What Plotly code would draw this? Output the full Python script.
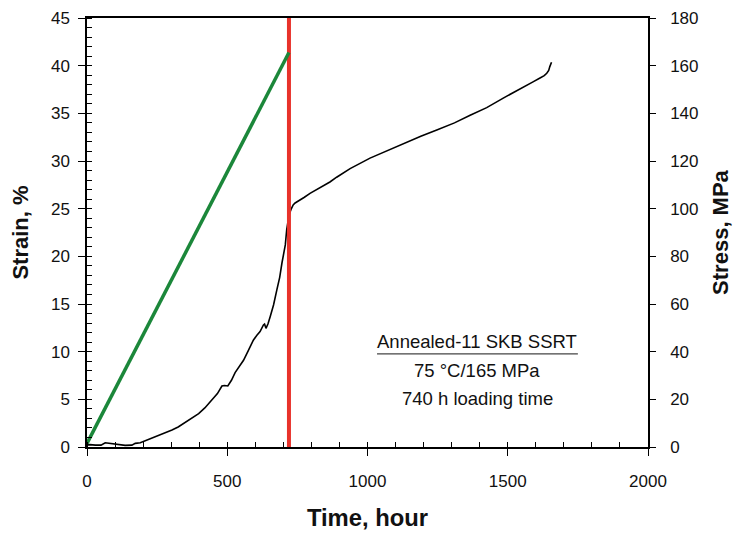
"""Strain and stress vs time for the Annealed-11 SKB SSRT test."""

import plotly.graph_objects as go

# black creep curve, strain (%) vs time (h)
TIME_H = [0, 10, 30, 50, 65, 75, 89, 110, 136, 160, 172, 190, 208, 230, 255, 280,
          303, 325, 350, 375, 398, 420, 445, 465, 481, 490, 502, 515, 528, 545,
          558, 575, 593, 605, 617, 629, 633, 638, 645, 653, 665, 677, 687, 695,
          702, 707, 712, 716, 720, 727, 735, 742, 750, 760, 775, 795, 812, 831,
          850, 866, 890, 938, 1009, 1070, 1128, 1190, 1247, 1310, 1366, 1425,
          1484, 1520, 1555, 1590, 1615, 1630, 1639, 1646, 1650, 1654, 1656]
STRAIN = [0.2, 0.25, 0.2, 0.2, 0.45, 0.42, 0.31, 0.25, 0.17, 0.2, 0.38, 0.45, 0.66,
          0.9, 1.15, 1.45, 1.78, 2.1, 2.55, 3.0, 3.5, 4.1, 4.9, 5.6, 6.4, 6.45,
          6.4, 7.0, 7.8, 8.6, 9.1, 10.1, 11.2, 11.7, 12.1, 12.8, 12.9, 12.45,
          12.9, 13.67, 14.9, 16.5, 17.8, 19.3, 20.4, 21.2, 22.8, 23.7, 24.3, 24.9,
          25.4, 25.6, 25.75, 25.85, 26.2, 26.6, 26.9, 27.2, 27.5, 27.8, 28.3,
          29.2, 30.3, 31.1, 31.85, 32.6, 33.25, 34.0, 34.8, 35.6, 36.6, 37.2,
          37.8, 38.3, 38.7, 38.95, 39.2, 39.5, 39.9, 40.2, 40.35]

# green loading ramp, stress (MPa) vs time (h)
LOAD_TIME = [0, 720]
LOAD_STRESS = [1.5, 165.5]

# red marker at end of loading
END_LOAD_TIME = [720, 720]
END_LOAD_STRAIN = [0, 45]

X_TICKS = [0, 500, 1000, 1500, 2000]
STRAIN_TICKS = [0, 5, 10, 15, 20, 25, 30, 35, 40, 45]
STRESS_TICKS = [0, 20, 40, 60, 80, 100, 120, 140, 160, 180]

FONT = "Liberation Sans, Arial, sans-serif"
INK = '#111111'

fig = go.Figure()
fig.add_trace(go.Scatter(
    x=TIME_H, y=STRAIN, mode='lines',
    line=dict(color='black', width=1.6), showlegend=False,
))
fig.add_trace(go.Scatter(
    x=LOAD_TIME, y=LOAD_STRESS, mode='lines', yaxis='y2',
    line=dict(color='#1b873a', width=3.5), showlegend=False,
))
fig.add_trace(go.Scatter(
    x=END_LOAD_TIME, y=END_LOAD_STRAIN, mode='lines',
    line=dict(color='#e8322b', width=4), showlegend=False,
))

# page body adds an 8 px offset, so the figure is shrunk to fit the window
fig.update_layout(
    width=733, height=525,
    margin=dict(l=79, r=93, t=10, b=86),
    paper_bgcolor='white', plot_bgcolor='white',
    font=dict(family=FONT, size=17, color=INK),
    xaxis=dict(
        range=[0, 2000], tickvals=X_TICKS, showgrid=False, zeroline=False,
        showline=True, linecolor='black', linewidth=1.5, mirror=True,
        ticks='outside', ticklen=7, tickcolor='black', tickwidth=1.3,
        ticklabelstandoff=11, automargin=False,
        minor=dict(dtick=100, ticks='inside', ticklen=5, tickcolor='black', tickwidth=1),
        title=dict(text='<b>Time, hour</b>', font=dict(size=23.8), standoff=19),
    ),
    xaxis2=dict(
        range=[0, 2000], overlaying='x', tickvals=X_TICKS, showticklabels=False,
        ticks='inside', ticklen=7, tickcolor='black', tickwidth=1.3,
        showgrid=False, zeroline=False, showline=False, automargin=False,
    ),
    yaxis=dict(
        range=[0, 45], tickvals=STRAIN_TICKS, showgrid=False, zeroline=False,
        showline=True, linecolor='black', linewidth=1.5,
        ticks='outside', ticklen=7, tickcolor='black', tickwidth=1.3,
        ticklabelstandoff=5, automargin=False,
        minor=dict(dtick=1, ticks='inside', ticklen=5, tickcolor='black', tickwidth=1),
        title=dict(text='<b>Strain, %</b>', font=dict(size=22), standoff=19),
    ),
    yaxis2=dict(
        range=[0, 180], tickvals=STRESS_TICKS, overlaying='y', side='right',
        showgrid=False, zeroline=False,
        showline=True, linecolor='black', linewidth=1.5,
        ticks='outside', ticklen=6, tickcolor='black', tickwidth=1.3,
        ticklabelstandoff=11, automargin=False,
        title=dict(text='<b>Stress, MPa</b>', font=dict(size=22), standoff=15),
    ),
    yaxis3=dict(
        range=[0, 180], tickvals=STRESS_TICKS, overlaying='y', side='right',
        anchor='x', showticklabels=False, ticks='inside', ticklen=5,
        tickcolor='black', tickwidth=1.3, showgrid=False, zeroline=False,
        automargin=False,
    ),
)

# text box with underlined header
NOTE = dict(xref='paper', yref='paper', showarrow=False, xanchor='center',
            yanchor='middle', font=dict(size=18.5))
fig.add_annotation(x=0.696, y=0.2455, text='Annealed-11 SKB SSRT', **NOTE)
fig.add_shape(type='line', xref='paper', yref='paper', x0=0.517, x1=0.875,
              y0=0.217, y1=0.217, line=dict(color='#444444', width=1.2))
fig.add_annotation(x=0.696, y=0.179, text='75 °C/165 MPa', **NOTE)
fig.add_annotation(x=0.696, y=0.112, text='740 h loading time', **NOTE)

fig.write_html("out.html")
